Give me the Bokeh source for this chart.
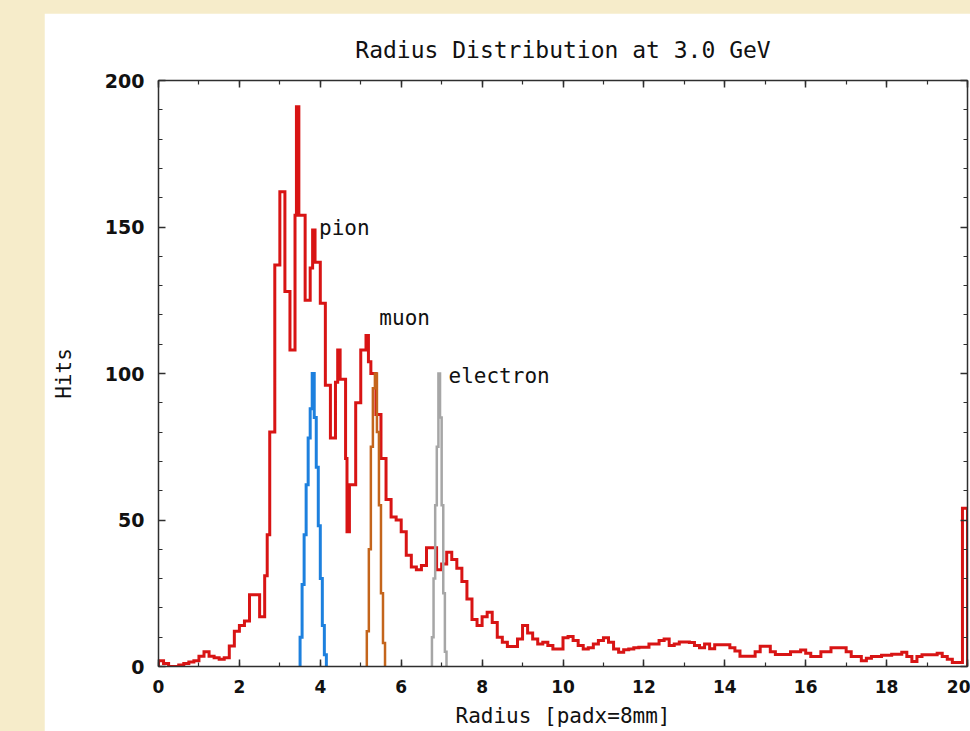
from bokeh.plotting import figure
from bokeh.models import Range1d, SingleIntervalTicker, LinearAxis, Label, GlobalInlineStyleSheet
from bokeh.embed import file_html
from bokeh.resources import INLINE

# ---------------- data ----------------
red_left = [0.0, 0.125, 0.25, 0.375, 0.5, 0.625, 0.75, 0.875, 1.0, 1.125, 1.25, 1.375, 1.5, 1.625,
            1.75, 1.875, 2.0, 2.125, 2.25, 2.375, 2.5, 2.625, 2.6875, 2.75, 2.875, 3.0, 3.125, 3.25,
            3.375, 3.41, 3.47, 3.625, 3.75, 3.81, 3.87, 4.0, 4.125, 4.25, 4.375, 4.43, 4.49, 4.625,
            4.66, 4.72, 4.875, 5.0, 5.13, 5.19, 5.25, 5.375, 5.5, 5.625, 5.75, 5.875, 6.0, 6.125,
            6.25, 6.375, 6.5, 6.625, 6.75, 6.875, 7.0, 7.125, 7.25, 7.375, 7.5, 7.625, 7.75, 7.875,
            8.0, 8.125, 8.25, 8.375, 8.5, 8.625, 8.75, 8.875, 9.0, 9.125, 9.25, 9.375, 9.5, 9.625,
            9.75, 9.875, 10.0, 10.125, 10.25, 10.375, 10.5, 10.625, 10.75, 10.875, 11.0, 11.125,
            11.25, 11.375, 11.5, 11.625, 11.75, 11.875, 12.0, 12.125, 12.25, 12.375, 12.5, 12.625,
            12.75, 12.875, 13.0, 13.125, 13.25, 13.375, 13.5, 13.625, 13.75, 13.875, 14.0, 14.125,
            14.25, 14.375, 14.5, 14.625, 14.75, 14.875, 15.0, 15.125, 15.25, 15.375, 15.5, 15.625,
            15.75, 15.875, 16.0, 16.125, 16.25, 16.375, 16.5, 16.625, 16.75, 16.875, 17.0, 17.125,
            17.25, 17.375, 17.5, 17.625, 17.75, 17.875, 18.0, 18.125, 18.25, 18.375, 18.5, 18.625,
            18.75, 18.875, 19.0, 19.125, 19.25, 19.375, 19.5, 19.625, 19.75, 19.875]
red_hits = [2, 1, 0, 0, 0.5, 1, 1.5, 2, 3.5, 5, 3.5, 3, 2.5, 3,
            7, 12, 14, 15.5, 24.5, 24.5, 17, 31, 45, 80, 137, 162, 128, 108,
            154, 191, 154, 125, 136, 149, 138, 124, 96, 78, 97, 108, 98, 71,
            46, 62, 90, 108, 113, 104, 100, 86, 71, 57, 51, 50, 46, 38,
            34, 33, 34.5, 40.5, 40.5, 33, 35, 39, 36.5, 33.5, 29, 23, 16, 14,
            17, 18.5, 15, 10, 8.3, 6.8, 6.8, 9.4, 14, 11.4, 9.4, 7.7, 8.3, 7.2,
            6, 6, 9.8, 10.2, 8.9, 7.2, 6, 6.4, 7.7, 8.9, 9.8, 8.3,
            6, 4.9, 5.7, 6, 6.4, 6.6, 6.6, 7.7, 7.7, 8.9, 9.4, 7.2,
            7.7, 8.4, 8.4, 8.2, 7.2, 6.4, 7.7, 6.1, 7.4, 7.4, 7.4, 6.4,
            5.3, 3.5, 3.5, 3.5, 5, 6.9, 6.9, 5, 4.1, 4.1, 4.1, 5,
            5, 5.6, 4.5, 3.4, 3.4, 5, 5, 6.4, 6.4, 6.4, 5, 3.4,
            3.4, 2, 2.8, 3.4, 3.4, 3.8, 3.8, 4.2, 4.2, 4.9, 3.4, 1.7,
            3.4, 4, 4, 4, 4.5, 3.4, 2.5, 1.4, 1.4, 54]
red_end = 20.0

pion_left = [3.50, 3.55, 3.60, 3.65, 3.70, 3.75, 3.80, 3.85, 3.90, 3.95, 4.00, 4.05, 4.10]
pion_hits = [10, 28, 45, 62, 78, 88, 100, 85, 68, 48, 30, 14, 4]
pion_end = 4.15

muon_left = [5.15, 5.20, 5.25, 5.30, 5.35, 5.40, 5.45, 5.50, 5.55]
muon_hits = [12, 40, 75, 95, 100, 80, 55, 25, 8]
muon_end = 5.60

elec_left = [6.76, 6.80, 6.84, 6.88, 6.92, 6.96, 7.00, 7.04, 7.08]
elec_hits = [10, 30, 55, 75, 100, 85, 55, 25, 5]
elec_end = 7.12

labels_text = ["pion", "muon", "electron"]
labels_x = [3.97, 5.46, 7.17]
labels_y = [149.5, 119.0, 99.0]

title_text = "Radius Distribution at 3.0 GeV"
x_label = "Radius [padx=8mm]"
y_label = "Hits"


def step_path(lefts, hits, end):
    xs, ys = [lefts[0]], [0.0]
    for i, h in enumerate(hits):
        r = lefts[i + 1] if i + 1 < len(lefts) else end
        xs += [lefts[i], r]
        ys += [h, h]
    xs.append(end)
    ys.append(0.0)
    return xs, ys


MONO = "DejaVu Sans Mono"
SANS = "DejaVu Sans"
AXC = "#2e2e2e"
TXT = "#111111"

p = figure(width=926, height=732, x_range=Range1d(0, 20), y_range=Range1d(0, 200),
           output_backend="svg", toolbar_location=None,
           min_border_left=114, min_border_right=3, min_border_top=67, min_border_bottom=79,
           margin=(13, 0, 0, 44))
p.stylesheets = [GlobalInlineStyleSheet(css="html,body{background:#f6ecca;overflow:hidden;}")]
p.background_fill_color = "white"
p.border_fill_color = "white"
p.outline_line_color = None
p.grid.visible = False

p.title.text = title_text
p.title.align = "center"
p.title.text_font = MONO
p.title.text_font_size = "23px"
p.title.text_font_style = "normal"
p.title.text_color = TXT
p.title.standoff = 35


def style_axis(ax, interval, minor, label_size):
    ax.ticker = SingleIntervalTicker(interval=interval, num_minor_ticks=minor)
    ax.axis_line_color = AXC
    ax.axis_line_width = 1.5
    ax.major_tick_line_color = AXC
    ax.minor_tick_line_color = AXC
    ax.major_tick_line_width = 1.5
    ax.minor_tick_line_width = 1.2
    ax.major_tick_in = 7
    ax.major_tick_out = 0
    ax.minor_tick_in = 4
    ax.minor_tick_out = 0
    if label_size:
        ax.major_label_text_font = SANS
        ax.major_label_text_font_style = "bold"
        ax.major_label_text_font_size = label_size
        ax.major_label_text_color = TXT
    else:
        ax.major_label_text_font_size = "1px"
        ax.major_label_text_color = None
        ax.major_label_standoff = 0


xa = p.xaxis[0]
style_axis(xa, 2, 2, "17px")
xa.major_label_standoff = 13
xa.axis_label = x_label
xa.axis_label_text_font = MONO
xa.axis_label_text_font_size = "21px"
xa.axis_label_text_font_style = "normal"
xa.axis_label_text_color = TXT
xa.axis_label_standoff = 8

ya = p.yaxis[0]
style_axis(ya, 50, 5, "19px")
ya.major_label_standoff = 14
ya.axis_label = y_label
ya.axis_label_text_font = MONO
ya.axis_label_text_font_size = "21px"
ya.axis_label_text_font_style = "normal"
ya.axis_label_text_color = TXT
ya.axis_label_standoff = 26

top_ax = LinearAxis()
style_axis(top_ax, 2, 2, None)
p.add_layout(top_ax, "above")
right_ax = LinearAxis()
style_axis(right_ax, 50, 5, None)
p.add_layout(right_ax, "right")

rx, ry = step_path(red_left, red_hits, red_end)
p.line(rx, ry, line_color="#d81414", line_width=3, line_join="miter")

px_, py_ = step_path(pion_left, pion_hits, pion_end)
p.line(px_, py_, line_color="#1d80de", line_width=3, line_join="miter")

mx, my = step_path(muon_left, muon_hits, muon_end)
p.line(mx, my, line_color="#c4651c", line_width=2.5, line_join="miter")

ex, ey = step_path(elec_left, elec_hits, elec_end)
p.line(ex, ey, line_color="#a6a6a6", line_width=2.5, line_join="miter")

for t, lx, ly in zip(labels_text, labels_x, labels_y):
    p.add_layout(Label(x=lx, y=ly, text=t, text_font=MONO, text_font_size="21px",
                       text_baseline="middle", text_align="left", text_color=TXT))

open("out.html", "w").write(file_html(p, INLINE))
